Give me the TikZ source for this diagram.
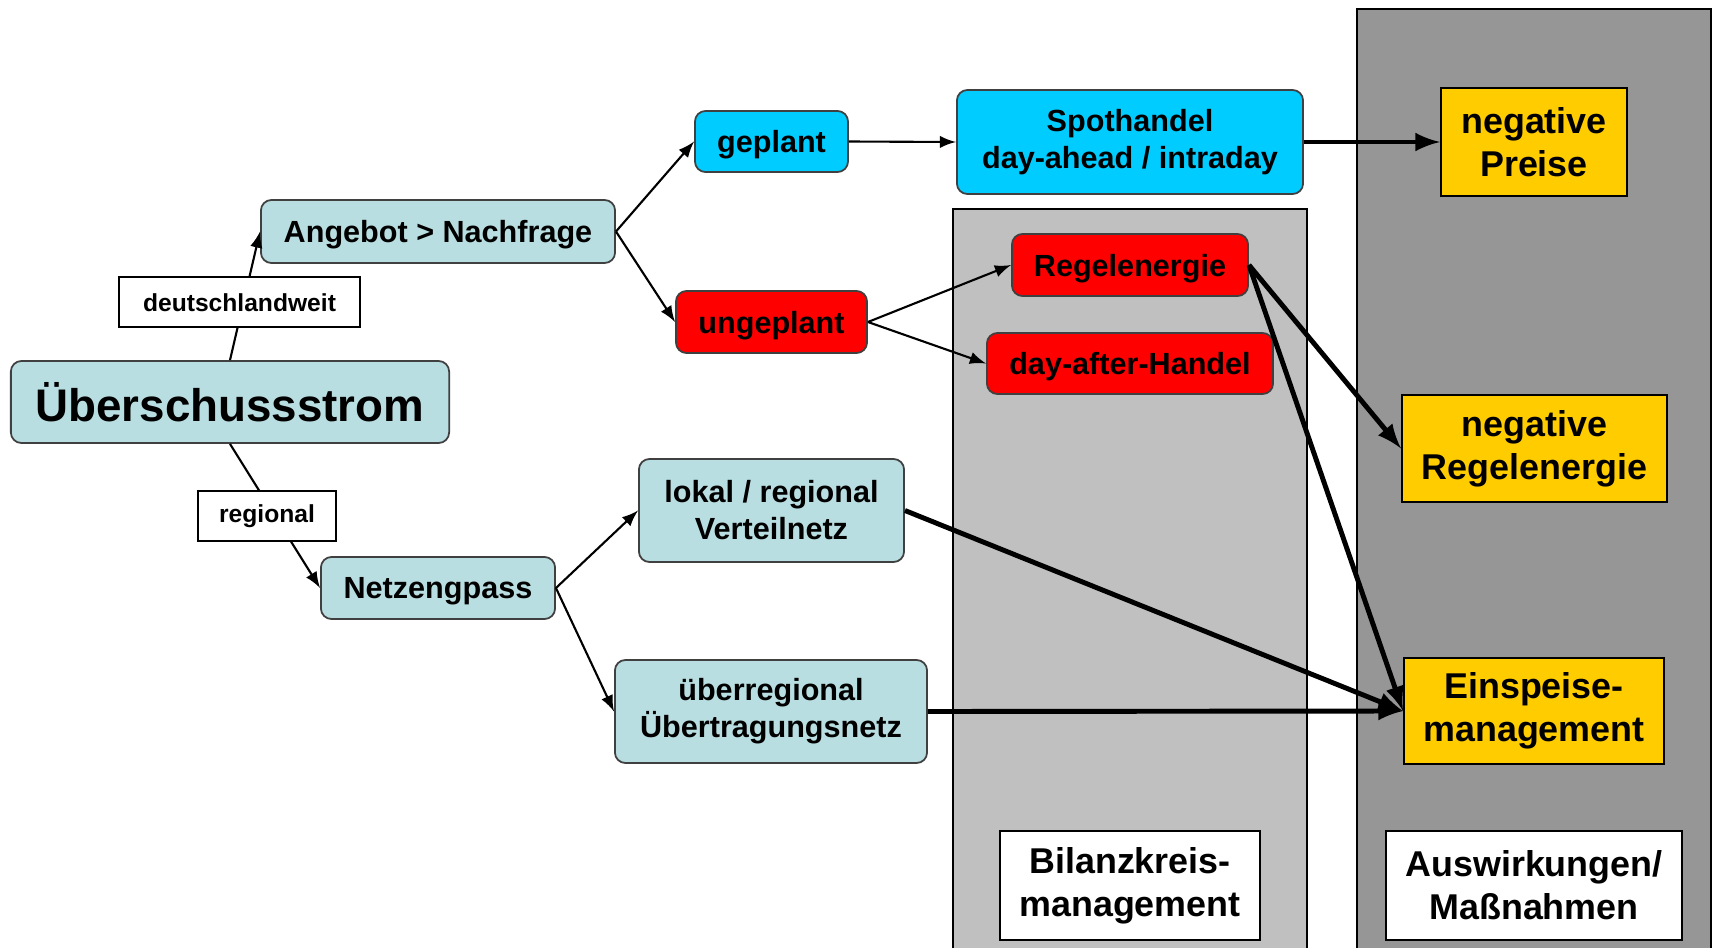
\documentclass[tikz,border=0pt]{standalone}
\usepackage{fontspec}
\setmainfont{Liberation Sans}
\usepackage{tikz}
\usetikzlibrary{arrows}
\usetikzlibrary{shapes}

\definecolor{boxteal}{RGB}{185,222,225}
\definecolor{boxcyan}{RGB}{0,204,255}
\definecolor{boxred}{RGB}{255,0,0}
\definecolor{boxgold}{RGB}{255,204,0}
\definecolor{panellight}{RGB}{192,192,192}
\definecolor{paneldark}{RGB}{150,150,150}

\tikzset{
    box/.style = {draw = black!75, line width = 0.5pt, rounded corners = 3pt, align = center,
        inner sep = 0pt, font = \fontsize{8.7}{10.5}\selectfont\bfseries},
    oneline/.style = {text depth = 0pt},
    tealbox/.style = {box, fill = boxteal},
    cyanbox/.style = {box, fill = boxcyan},
    redbox/.style = {box, fill = boxred},
    goldbox/.style = {box, fill = boxgold, draw = black, rounded corners = 0pt,
        font = \fontsize{10.2}{12.2}\selectfont\bfseries},
    legendbox/.style = {goldbox, fill = white},
    edgelabel/.style = {draw = black, fill = white, inner sep = 0pt, minimum height = 0.5cm,
        font = \fontsize{7}{8}\selectfont\bfseries},
    thinarrow/.style = {-latex, line width = 0.6pt},
    thickarrow/.style = {-latex, line width = 1.4pt}
}

\begin{document}
\begin{tikzpicture}[x = 0.01cm, y = -0.01cm]
    \useasboundingbox (0, 0) rectangle (1717, 948);

    % panels
    \filldraw [fill = paneldark, draw = black, line width = 0.6pt] (1357, 9) rectangle (1711, 980);
    \filldraw [fill = panellight, draw = black, line width = 0.6pt] (953, 209) rectangle (1307, 980);

    \node [tealbox, oneline, minimum width = 4.38cm, minimum height = 0.82cm,
        font = \fontsize{13}{15}\selectfont\bfseries] (ueber) at (230, 402) {Überschussstrom};
    \node [tealbox, oneline, minimum width = 3.54cm, minimum height = 0.63cm] (angebot) at (438, 231.5) {Angebot > Nachfrage};
    \node [tealbox, oneline, minimum width = 2.34cm, minimum height = 0.62cm] (netz) at (438, 588) {Netzengpass};

    \node [cyanbox, oneline, minimum width = 1.53cm, minimum height = 0.61cm] (geplant) at (771.5, 141.5) {geplant};
    \node [redbox, oneline, minimum width = 1.91cm, minimum height = 0.62cm] (ungeplant) at (771.5, 322) {ungeplant};
    \node [tealbox, minimum width = 2.65cm, minimum height = 1.03cm] (lokal) at (771.5, 510.5) {lokal / regional\\Verteilnetz};
    \node [tealbox, minimum width = 3.12cm, minimum height = 1.03cm] (ueberreg) at (771, 711.5) {überregional\\Übertragungsnetz};

    \node [cyanbox, minimum width = 3.46cm, minimum height = 1.04cm] (spot) at (1130, 142) {Spothandel\\day-ahead / intraday};
    \node [redbox, oneline, minimum width = 2.36cm, minimum height = 0.62cm] (regel) at (1130, 265) {Regelenergie};
    \node [redbox, oneline, minimum width = 2.86cm, minimum height = 0.61cm] (dayafter) at (1130, 363.5) {day-after-Handel};

    \node [goldbox, minimum width = 1.86cm, minimum height = 1.08cm] (negpreis) at (1534, 142) {negative\\Preise};
    \node [goldbox, minimum width = 2.65cm, minimum height = 1.07cm] (negregel) at (1534.5, 448.5) {negative\\Regelenergie};
    \node [goldbox, minimum width = 2.60cm, minimum height = 1.06cm] (einsp) at (1534, 711) {Einspeise-\\management};

    \node [legendbox, minimum width = 2.60cm, minimum height = 1.09cm] (bilanz) at (1130, 885.5) {Bilanzkreis-\\management};
    \node [legendbox, minimum width = 2.96cm, minimum height = 1.09cm] (ausw) at (1534, 885.5) {Auswirkungen/\\Maßnahmen};

    % connectors
    \draw [thinarrow] (ueber.north) -- node [edgelabel, pos = 0.45, xshift = -0.04cm, minimum width = 2.41cm] (dlw) {deutschlandweit} (angebot.west);
    \draw [thinarrow] (ueber.south) -- node [edgelabel, xshift = -0.08cm, minimum width = 1.38cm] (reg) {regional} (netz.west);
    \draw [thinarrow] (angebot.east) -- (geplant.west);
    \draw [thinarrow] (angebot.east) -- (ungeplant.west);
    \draw [thinarrow] (netz.east) -- (lokal.west);
    \draw [thinarrow] (netz.east) -- (ueberreg.west);
    \draw [thinarrow] (geplant.east) -- (spot.west);
    \draw [thinarrow] (ungeplant.east) -- (regel.west);
    \draw [thinarrow] (ungeplant.east) -- (dayafter.west);
    \draw [thickarrow] (spot.east) -- (negpreis.west);
    \draw [thickarrow] (regel.east) -- (negregel.west);
    \draw [thickarrow] (regel.east) -- (einsp.west);
    \draw [thickarrow] (lokal.east) -- (einsp.west);
    \draw [thickarrow] (ueberreg.east) -- (einsp.west);
\end{tikzpicture}
\end{document}
